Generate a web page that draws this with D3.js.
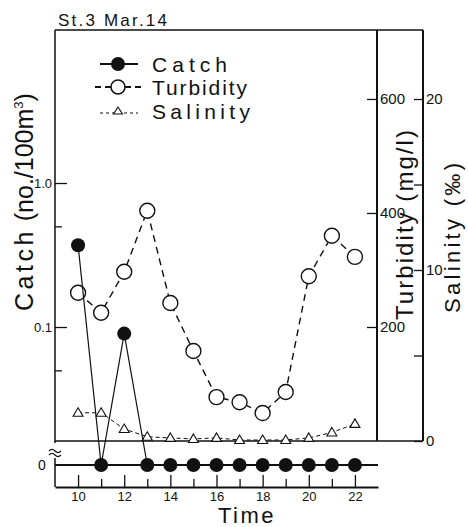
<!DOCTYPE html>
<html>
<head>
<meta charset="utf-8">
<script src="https://cdn.jsdelivr.net/npm/d3@7"></script>
<style>
  body { margin: 0; background: #fff; }
  svg text { font-family: "Liberation Sans", "DejaVu Sans", sans-serif; fill: #111; }
</style>
</head>
<body>
<div id="chart"></div>
<script>
// hours of sampling, St.3 Mar.14
var hours = [10, 11, 12, 13, 14, 15, 16, 17, 18, 19, 20, 21, 22];
// catch (no./100m3), 0 = nothing caught
var catchVals = [0.37, 0, 0.09, 0, 0, 0, 0, 0, 0, 0, 0, 0, 0];
// turbidity (mg/l)
var turbidity = [260, 225, 297, 404, 242, 158, 77, 68, 49, 86, 289, 360, 323];
// salinity (per mille)
var salinity = [1.65, 1.65, 0.7, 0.25, 0.18, 0.12, 0.18, 0.06, 0.06, 0.06, 0.18, 0.5, 1.0];

var timeTicks = [10, 11, 12, 13, 14, 15, 16, 17, 18, 19, 20, 21, 22];
var catchTicks = [1.0, 0.5, 0.1, 0.05];
var turbTicks = [200, 400, 600];
var salTicks = [0, 5, 10, 15, 20];

var svg = d3.select('#chart').append('svg')
  .attr('width', 468)
  .attr('height', 527);

var left = 55, inner = 377, outer = 423, plotTop = 30, bottom = 441, zeroY = 465, axisY = 487;

var x = d3.scaleLinear().domain([9, 23]).range([left, 378]);
var yCatch = d3.scaleLog().domain([0.01616, 11.55]).range([bottom, plotTop]);
var yTurb = d3.scaleLinear().domain([0, 721]).range([bottom, plotTop]);
var ySal = d3.scaleLinear().domain([0, 24.035]).range([bottom, plotTop]);

// frame
var frame = svg.append('g').attr('stroke', '#111').attr('fill', 'none');
frame.append('line').attr('x1', left).attr('x2', outer).attr('y1', plotTop).attr('y2', plotTop).attr('stroke-width', 1.5);
frame.append('line').attr('x1', left).attr('x2', outer).attr('y1', bottom).attr('y2', bottom).attr('stroke-width', 1.3);
frame.append('line').attr('x1', left).attr('x2', left).attr('y1', plotTop).attr('y2', bottom + 2).attr('stroke-width', 1.5);
frame.append('line').attr('x1', left).attr('x2', left).attr('y1', 458).attr('y2', axisY).attr('stroke-width', 1.5);
frame.append('line').attr('x1', inner).attr('x2', inner).attr('y1', plotTop).attr('y2', bottom).attr('stroke-width', 2);
frame.append('line').attr('x1', outer).attr('x2', outer).attr('y1', plotTop).attr('y2', bottom).attr('stroke-width', 2);
// break mark
frame.append('path')
  .attr('d', 'M49,451 q3,-3 6,0 t6,0 M49,455 q3,-3 6,0 t6,0')
  .attr('stroke-width', 1.2);
// zero line for catch
frame.append('line').attr('x1', left).attr('x2', 378).attr('y1', zeroY).attr('y2', zeroY).attr('stroke-width', 2.2);

// x axis
var xAxis = svg.append('g')
  .attr('transform', 'translate(0,' + axisY + ')')
  .call(d3.axisBottom(x).tickValues(timeTicks).tickSizeInner(-12).tickSizeOuter(0).tickPadding(5)
    .tickFormat(function (d) { return d % 2 === 0 ? d : ''; }));
xAxis.select('.domain').attr('stroke', '#111').attr('stroke-width', 2);
xAxis.selectAll('.tick line').attr('stroke', '#111').attr('stroke-width', 1.3)
  .attr('y2', function (d) { return d % 2 === 0 ? -12 : -8; });
xAxis.selectAll('.tick text').attr('font-size', 13).attr('fill', '#111')
  .style('font-family', '"Liberation Sans", sans-serif');
svg.append('text').attr('x', 247).attr('y', 523).attr('text-anchor', 'middle')
  .attr('font-size', 22).attr('letter-spacing', 2.5).text('Time');

// catch axis (log)
var cAxis = svg.append('g')
  .attr('transform', 'translate(' + left + ',0)')
  .call(d3.axisLeft(yCatch).tickValues(catchTicks).tickSizeInner(-12).tickSizeOuter(0).tickPadding(3)
    .tickFormat(function (d) { return d === 1 ? '1.0' : (d === 0.1 ? '0.1' : ''); }));
cAxis.select('.domain').remove();
cAxis.selectAll('.tick line').attr('stroke', '#111').attr('stroke-width', 1.3)
  .attr('x2', function (d) { return (d === 1 || d === 0.1) ? 12 : 7; });
cAxis.selectAll('.tick text').attr('font-size', 13).attr('fill', '#111')
  .style('font-family', '"Liberation Sans Narrow", sans-serif');
svg.append('text').attr('x', 42).attr('y', zeroY + 5).attr('text-anchor', 'middle')
  .attr('font-size', 14).text('0');
svg.append('text')
  .attr('transform', 'translate(33,311) rotate(-90)')
  .attr('font-size', 25)
  .html('<tspan letter-spacing="3.5">Catch</tspan> (no./100m<tspan font-size="13" dy="-10">3</tspan><tspan dy="10">)</tspan>');

// turbidity axis
var tAxis = svg.append('g')
  .attr('transform', 'translate(' + inner + ',0)')
  .call(d3.axisRight(yTurb).tickValues(turbTicks).tickSizeInner(-10).tickSizeOuter(0).tickPadding(3));
tAxis.select('.domain').remove();
tAxis.selectAll('.tick line').attr('stroke', '#111').attr('stroke-width', 1.3);
tAxis.selectAll('.tick text').attr('font-size', 15).attr('fill', '#111')
  .style('font-family', '"Liberation Sans Narrow", sans-serif');
svg.append('text')
  .attr('transform', 'translate(413,225) rotate(-90)')
  .attr('text-anchor', 'middle').attr('font-size', 24)
  .attr('textLength', 190).attr('lengthAdjust', 'spacing')
  .text('Turbidity (mg/l)');

// salinity axis
var sAxis = svg.append('g')
  .attr('transform', 'translate(' + outer + ',0)')
  .call(d3.axisRight(ySal).tickValues(salTicks).tickSizeInner(-9).tickSizeOuter(0).tickPadding(3)
    .tickFormat(function (d) { return d % 10 === 0 ? d : ''; }));
sAxis.select('.domain').remove();
sAxis.selectAll('.tick line').attr('stroke', '#111').attr('stroke-width', 1.3);
sAxis.selectAll('.tick text').attr('font-size', 15).attr('fill', '#111')
  .style('font-family', '"Liberation Sans Narrow", sans-serif');
svg.append('text')
  .attr('transform', 'translate(460,238) rotate(-90)')
  .attr('text-anchor', 'middle').attr('font-size', 22)
  .attr('textLength', 150).attr('lengthAdjust', 'spacing')
  .text('Salinity (‰)');

// title
svg.append('text').attr('x', 58).attr('y', 26).attr('font-size', 17)
  .attr('textLength', 109).attr('lengthAdjust', 'spacing').text('St.3  Mar.14');

// series data
var turbData = hours.map(function (h, i) { return { h: h, v: turbidity[i] }; });
var salData = hours.map(function (h, i) { return { h: h, v: salinity[i] }; });
var catchData = hours.map(function (h, i) { return { h: h, v: catchVals[i] }; });
var catchY = function (d) { return d.v > 0 ? yCatch(d.v) : zeroY; };

// salinity
svg.append('path').datum(salData)
  .attr('fill', 'none').attr('stroke', '#111').attr('stroke-width', 1)
  .attr('stroke-dasharray', '4,3')
  .attr('d', d3.line().x(function (d) { return x(d.h); }).y(function (d) { return ySal(d.v); }));
svg.selectAll('.sal').data(salData).enter().append('path')
  .attr('class', 'sal')
  .attr('transform', function (d) { return 'translate(' + x(d.h) + ',' + ySal(d.v) + ')'; })
  .attr('d', 'M0,-5 L5,3.5 L-5,3.5 Z')
  .attr('fill', '#fff').attr('stroke', '#111').attr('stroke-width', 1.1);

// turbidity
svg.append('path').datum(turbData)
  .attr('fill', 'none').attr('stroke', '#111').attr('stroke-width', 1.4)
  .attr('stroke-dasharray', '7,5')
  .attr('d', d3.line().x(function (d) { return x(d.h); }).y(function (d) { return yTurb(d.v); }));
svg.selectAll('.turb').data(turbData).enter().append('circle')
  .attr('class', 'turb')
  .attr('cx', function (d) { return x(d.h); })
  .attr('cy', function (d) { return yTurb(d.v); })
  .attr('r', 7.5)
  .attr('fill', '#fff').attr('stroke', '#111').attr('stroke-width', 1.4);

// catch
svg.append('path').datum(catchData)
  .attr('fill', 'none').attr('stroke', '#111').attr('stroke-width', 1.2)
  .attr('d', d3.line().x(function (d) { return x(d.h); }).y(catchY));
svg.selectAll('.catch').data(catchData).enter().append('circle')
  .attr('class', 'catch')
  .attr('cx', function (d) { return x(d.h); })
  .attr('cy', catchY)
  .attr('r', 7)
  .attr('fill', '#111');

// legend
var legend = svg.append('g');
var legItems = [
  { name: 'Catch', y: 64, len: 75, kind: 'catch' },
  { name: 'Turbidity', y: 87, len: 95, kind: 'turb' },
  { name: 'Salinity', y: 111, len: 98, kind: 'sal' }
];
legItems.forEach(function (it) {
  if (it.kind === 'catch') {
    legend.append('line').attr('x1', 100).attr('x2', 138).attr('y1', it.y).attr('y2', it.y)
      .attr('stroke', '#111').attr('stroke-width', 2);
    legend.append('circle').attr('cx', 118).attr('cy', it.y).attr('r', 7).attr('fill', '#111');
  } else if (it.kind === 'turb') {
    legend.append('line').attr('x1', 95).attr('x2', 143).attr('y1', it.y).attr('y2', it.y)
      .attr('stroke', '#111').attr('stroke-width', 2).attr('stroke-dasharray', '6,4');
    legend.append('circle').attr('cx', 118).attr('cy', it.y).attr('r', 7)
      .attr('fill', '#fff').attr('stroke', '#111').attr('stroke-width', 1.6);
  } else {
    legend.append('line').attr('x1', 100).attr('x2', 138).attr('y1', it.y + 2).attr('y2', it.y + 2)
      .attr('stroke', '#111').attr('stroke-width', 1.2).attr('stroke-dasharray', '3,3');
    legend.append('path').attr('transform', 'translate(118,' + it.y + ')')
      .attr('d', 'M0,-4 L4.5,3 L-4.5,3 Z')
      .attr('fill', '#fff').attr('stroke', '#111').attr('stroke-width', 1.1);
  }
  legend.append('text').attr('x', 152).attr('y', it.y + 8).attr('font-size', 21)
    .attr('textLength', it.len).attr('lengthAdjust', 'spacing').text(it.name);
});
</script>
</body>
</html>
